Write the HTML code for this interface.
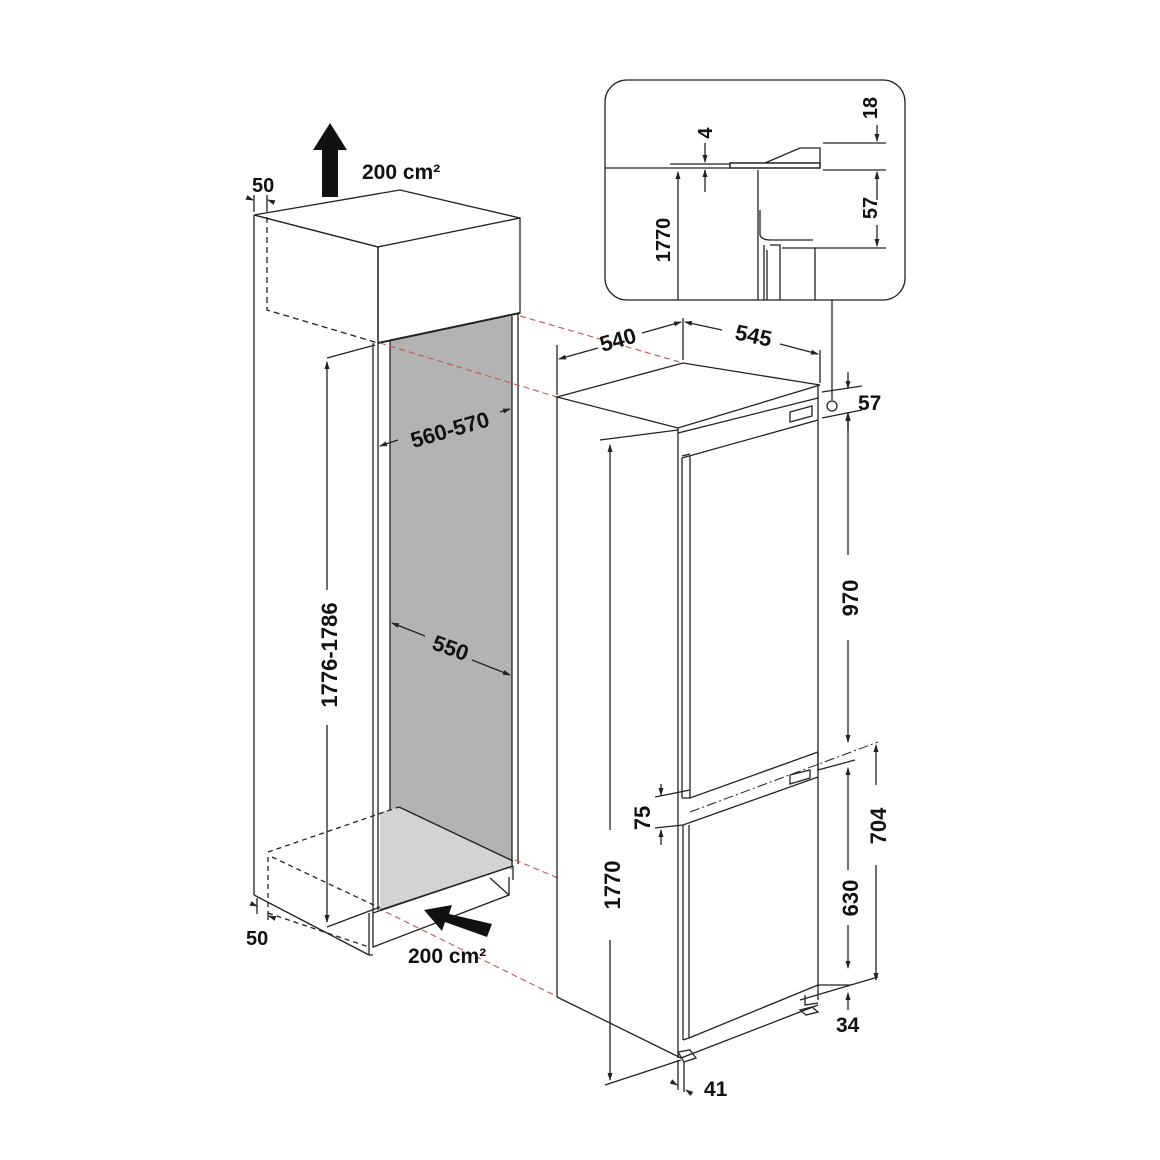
<!DOCTYPE html>
<html><head><style>html,body{margin:0;padding:0;background:#fff}svg{display:block}
text{font-family:"Liberation Sans",sans-serif;font-weight:bold;fill:#111}</style></head>
<body>
<svg width="1160" height="1160" viewBox="0 0 1160 1160" xmlns="http://www.w3.org/2000/svg">
<defs>
<marker id="a" markerWidth="8" markerHeight="8" refX="7" refY="4" orient="auto" markerUnits="userSpaceOnUse"><path d="M0,1.5 L8,4 L0,6.5 Z" fill="#222"/></marker>
</defs>
<g stroke="#222" stroke-width="1.3" fill="none">
<polygon points="390,341 512,316 512,870 399,807 390,810" fill="#b3b3b3" stroke="none"/>
<polygon points="380,812 399,807 513,861 513,866 380,910" fill="#d3d3d3" stroke="none"/>
<line x1="399" y1="807" x2="513" y2="861"/>
<line x1="380" y1="910" x2="513" y2="866"/>
<line x1="390" y1="341" x2="390" y2="810"/>
<polygon points="254,215 400,190 520,218 378,247" fill="#fff"/>
<polygon points="378,247 520,218 520,313 378,343" fill="#fff"/>
<line x1="254" y1="215" x2="378" y2="247"/>
<line x1="378" y1="247" x2="378" y2="343"/>
<line x1="378" y1="343" x2="520" y2="313" stroke-width="2"/>
<path d="M267,217 V310 L378,343" stroke-dasharray="6,4"/>
<line x1="254" y1="215" x2="254" y2="895"/>
<line x1="373" y1="343" x2="373" y2="913"/>
<line x1="378" y1="343" x2="378" y2="910"/>
<line x1="512" y1="316" x2="512" y2="866"/>
<line x1="518" y1="314" x2="518" y2="864"/>
<line x1="254" y1="895" x2="369" y2="955"/>
<path d="M268,857 V913" stroke-dasharray="5,4"/>
<path d="M268,852 L399,807" stroke-dasharray="5,4"/>
<path d="M272,857 L380,908" stroke-dasharray="5,4"/>
<path d="M268,913 L369,947" stroke-dasharray="5,4"/>
<path d="M369,913 V955 M373,913 V947 L509,895 V877 M369,955 L373,955 M373,913 L513,866 M490,878 L509,895 M513,866 V880"/>
<g stroke="#c85050" stroke-dasharray="6,4" stroke-width="1.1">
<line x1="520" y1="316" x2="683" y2="363"/>
<line x1="380" y1="343" x2="557" y2="397"/>
<line x1="515" y1="860" x2="558" y2="878"/>
<line x1="386" y1="912" x2="558" y2="997"/>
</g>
<polygon points="557,397 683,363 820,385 678,428" fill="#fff"/>
<path d="M678,428 V433 L818,398 V386"/>
<line x1="557" y1="397" x2="557" y2="997"/>
<line x1="678" y1="433" x2="678" y2="1058"/>
<line x1="557" y1="997" x2="681" y2="1058"/>
<line x1="818" y1="398" x2="818" y2="1000"/>
<line x1="681" y1="1058" x2="818" y2="1005"/>
<path d="M790,412 L812,406 V416 L790,422 Z"/>
<path d="M682,458 L818,420 M682,458 V798 M690,456 V798 L818,752 M682,798 L690,798 M682,456 L690,454"/>
<path d="M790,775 L810,770 V778 L790,784 Z"/>
<line x1="818" y1="752" x2="818" y2="770"/>
<path d="M683,825 L818,777 M683,825 V1040 M689,825 V1038 L818,985 M683,1040 L689,1038"/>
<path d="M678,1052 L690,1050 L696,1058 L684,1062 Z"/>
<path d="M805,995 V1005 L818,1003 M800,1010 L812,1007 L818,1012 L806,1015 Z"/>
<line x1="690" y1="812" x2="878" y2="742" stroke-dasharray="10,3,2,3" stroke-width="1"/>
<line x1="327" y1="358" x2="375" y2="345"/>
<line x1="327" y1="927" x2="380" y2="907"/>
<line x1="327" y1="590" x2="327" y2="362" marker-end="url(#a)"/>
<line x1="327" y1="725" x2="327" y2="922" marker-end="url(#a)"/>
<line x1="398" y1="440" x2="380" y2="446" marker-end="url(#a)"/>
<line x1="500" y1="412" x2="510" y2="409" marker-end="url(#a)"/>
<line x1="425" y1="636" x2="392" y2="623" marker-end="url(#a)"/>
<line x1="472" y1="660" x2="510" y2="675" marker-end="url(#a)"/>
<line x1="254" y1="195" x2="254" y2="212"/><line x1="267" y1="195" x2="267" y2="212"/>
<line x1="248" y1="198" x2="253" y2="200" marker-end="url(#a)"/><line x1="273" y1="202" x2="268" y2="200" marker-end="url(#a)"/>
<line x1="257" y1="898" x2="257" y2="914"/><line x1="268" y1="913" x2="268" y2="920"/>
<line x1="252" y1="904" x2="257" y2="906" marker-end="url(#a)"/><line x1="274" y1="918" x2="269" y2="916" marker-end="url(#a)"/>
<line x1="557" y1="345" x2="557" y2="395"/>
<line x1="683" y1="318" x2="683" y2="360"/>
<line x1="820" y1="350" x2="820" y2="383"/>
<line x1="598" y1="348" x2="559" y2="359" marker-end="url(#a)"/>
<line x1="642" y1="333" x2="681" y2="322" marker-end="url(#a)"/>
<line x1="722" y1="330" x2="685" y2="322" marker-end="url(#a)"/>
<line x1="780" y1="344" x2="818" y2="354" marker-end="url(#a)"/>
<line x1="822" y1="392" x2="862" y2="386"/>
<line x1="822" y1="418" x2="862" y2="410"/>
<line x1="848" y1="372" x2="848" y2="388" marker-end="url(#a)"/>
<line x1="848" y1="430" x2="848" y2="413" marker-end="url(#a)"/>
<line x1="848" y1="555" x2="848" y2="414" marker-end="url(#a)"/>
<line x1="848" y1="640" x2="848" y2="742" marker-end="url(#a)"/>
<line x1="818" y1="770" x2="855" y2="760"/>
<line x1="848" y1="870" x2="848" y2="768" marker-end="url(#a)"/>
<line x1="848" y1="925" x2="848" y2="968" marker-end="url(#a)"/>
<line x1="876" y1="785" x2="876" y2="745" marker-end="url(#a)"/>
<line x1="876" y1="865" x2="876" y2="980" marker-end="url(#a)"/>
<line x1="800" y1="1000" x2="878" y2="977"/>
<line x1="848" y1="1010" x2="848" y2="993" marker-end="url(#a)"/>
<line x1="818" y1="985" x2="850" y2="985"/>
<line x1="655" y1="797" x2="690" y2="790"/>
<line x1="655" y1="828" x2="683" y2="825"/>
<line x1="661" y1="784" x2="661" y2="795" marker-end="url(#a)"/>
<line x1="661" y1="845" x2="661" y2="830" marker-end="url(#a)"/>
<line x1="600" y1="440" x2="678" y2="430"/>
<line x1="610" y1="830" x2="610" y2="445" marker-end="url(#a)"/>
<line x1="610" y1="940" x2="610" y2="1080" marker-end="url(#a)"/>
<line x1="605" y1="1085" x2="681" y2="1060"/>
<line x1="678" y1="1060" x2="678" y2="1090"/><line x1="684" y1="1062" x2="684" y2="1092"/>
<line x1="672" y1="1082" x2="677" y2="1085" marker-end="url(#a)"/><line x1="692" y1="1094" x2="686" y2="1090" marker-end="url(#a)"/>
<rect x="605" y="80" width="300" height="220" rx="22" fill="#fff"/>
<line x1="605" y1="168" x2="730" y2="168"/>
<line x1="670" y1="164" x2="730" y2="164"/>
<rect x="730" y="163" width="90" height="5" fill="#fff" stroke-width="1.5"/>
<path d="M765,163 L800,148 H820 V165 M823,143 H886 M823,170 H886 M815,248 H886"/>
<line x1="678" y1="300" x2="678" y2="172" marker-end="url(#a)"/>
<line x1="705" y1="143" x2="705" y2="162" marker-end="url(#a)"/>
<line x1="705" y1="192" x2="705" y2="170" marker-end="url(#a)"/>
<line x1="877" y1="125" x2="877" y2="141" marker-end="url(#a)"/>
<line x1="877" y1="200" x2="877" y2="172" marker-end="url(#a)"/>
<line x1="877" y1="225" x2="877" y2="246" marker-end="url(#a)"/>
<path d="M758,170 V300 M760,210 V235 Q762,240 770,240 H813 M764,245 V300 M767,250 V300 M770,245 H780 V300 M782,248 H815 V300 M795,240 H812"/>
<line x1="832" y1="300" x2="832" y2="400"/>
<circle cx="832" cy="406" r="5" fill="#fff"/>
</g>
<path d="M322,197 H338 V150 H347 L330,123 L313,150 H322 Z" fill="#111"/>
<path d="M492,924 L487,937 L445,922 L442,931 L424,910 L452,905 L449,914 Z" fill="#111"/>
<text x="362" y="179" font-size="21">200 cm²</text>
<text x="408" y="963" font-size="21">200 cm²</text>
<text x="252" y="192" font-size="20">50</text>
<text x="246" y="945" font-size="20">50</text>
<text font-size="22" transform="translate(337,655) rotate(-90)" text-anchor="middle">1776-1786</text>
<text font-size="22" transform="translate(452,437) rotate(-16)" text-anchor="middle">560-570</text>
<text font-size="22" transform="translate(448,655) rotate(20)" text-anchor="middle">550</text>
<text font-size="22" transform="translate(620,347) rotate(-16)" text-anchor="middle">540</text>
<text font-size="22" transform="translate(752,343) rotate(12)" text-anchor="middle">545</text>
<text x="858" y="410" font-size="21">57</text>
<text font-size="22" transform="translate(858,598) rotate(-90)" text-anchor="middle">970</text>
<text font-size="22" transform="translate(886,826) rotate(-90)" text-anchor="middle">704</text>
<text font-size="22" transform="translate(858,898) rotate(-90)" text-anchor="middle">630</text>
<text font-size="22" transform="translate(650,818) rotate(-90)" text-anchor="middle">75</text>
<text font-size="22" transform="translate(620,885) rotate(-90)" text-anchor="middle">1770</text>
<text x="836" y="1032" font-size="21">34</text>
<text x="704" y="1096" font-size="21">41</text>
<text font-size="20" transform="translate(712,133) rotate(-90)" text-anchor="middle">4</text>
<text font-size="20" transform="translate(877,108) rotate(-90)" text-anchor="middle">18</text>
<text font-size="20" transform="translate(877,208) rotate(-90)" text-anchor="middle">57</text>
<text font-size="20" transform="translate(670,240) rotate(-90)" text-anchor="middle">1770</text>
</svg>
</body></html>
